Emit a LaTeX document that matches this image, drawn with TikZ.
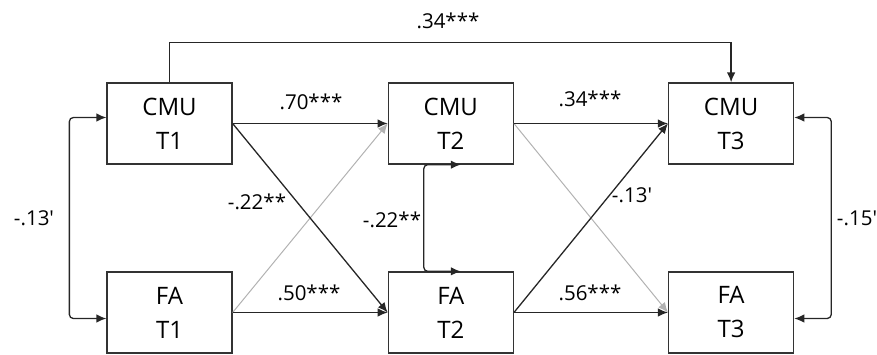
\documentclass[tikz,border=0pt]{standalone}
\usepackage{fontspec}
\setmainfont{Open Sans}
\usetikzlibrary{arrows.meta,positioning}

\begin{document}
\begin{tikzpicture}[x=1pt,y=-1pt,>={Latex[length=10pt,width=8.5pt]},
  var/.style={draw=black!80,line width=1.3pt,minimum width=125pt,minimum height=81pt,
    align=center,inner sep=0pt,font=\fontsize{24}{34}\selectfont},
  link/.style={->,line width=1.3pt,draw=black!85},
  weak/.style={->,line width=1pt,draw=black!30},
  coef/.style={inner sep=0pt,font=\fontsize{20.5}{24}\selectfont}]
  \useasboundingbox (0,0) rectangle (877,354);
  % variables
  \node[var] (cmuA) at (169.5,123.5) {CMU\\T1};
  \node[var,right=155pt of cmuA] (cmuB) {CMU\\T2};
  \node[var,right=154pt of cmuB] (cmuC) {CMU\\T3};
  \node[var] (faA) at (169.5,312.5) {FA\\T1};
  \node[var,right=155pt of faA] (faB) {FA\\T2};
  \node[var,right=154pt of faB] (faC) {FA\\T3};
  % non-significant paths
  \draw[weak] (faA.east) -- (cmuB.west);
  \draw[weak] (cmuB.east) -- (faC.west);
  % paths
  \draw[link] (cmuA) -- (cmuB);
  \draw[link] (cmuB) -- (cmuC);
  \draw[link] (faA) -- (faB);
  \draw[link] (faB) -- (faC);
  \draw[link] (cmuA.east) -- (faB.west);
  \draw[link] (faB.east) -- (cmuC.west);
  \draw[link] (cmuA.north) -- ++(0,-40) -| (cmuC.north);
  % correlations
  \draw[link,<->,rounded corners=4pt] ([yshift=6pt]cmuA.west) -- ++(-37,0) |- ([yshift=-6pt]faA.west);
  \draw[link,<->,rounded corners=4pt] ([xshift=10pt]cmuB.south) -- ++(-37,0) |- ([xshift=10pt]faB.north);
  \draw[link,<->,rounded corners=4pt] ([yshift=6pt]cmuC.east) -- ++(37,0) |- ([yshift=-6pt]faC.east);
  % coefficients
  \node[coef] (bTop) at (448,21) {.34***};
  \node[coef] (bCC12) at (311,102) {.70***};
  \node[coef] (bCC23) at (590,99) {.34***};
  \node[coef] (bFF12) at (309,293) {.50***};
  \node[coef] (bFF23) at (590,293) {.56***};
  \node[coef] (bCF12) at (257,202) {-.22**};
  \node[coef] (bFC23) at (632,195) {-.13\textquotesingle};
  \node[coef] (rT1) at (34,218) {-.13\textquotesingle};
  \node[coef] (rT2) at (392,220) {-.22**};
  \node[coef] (rT3) at (857,218) {-.15\textquotesingle};
\end{tikzpicture}
\end{document}
